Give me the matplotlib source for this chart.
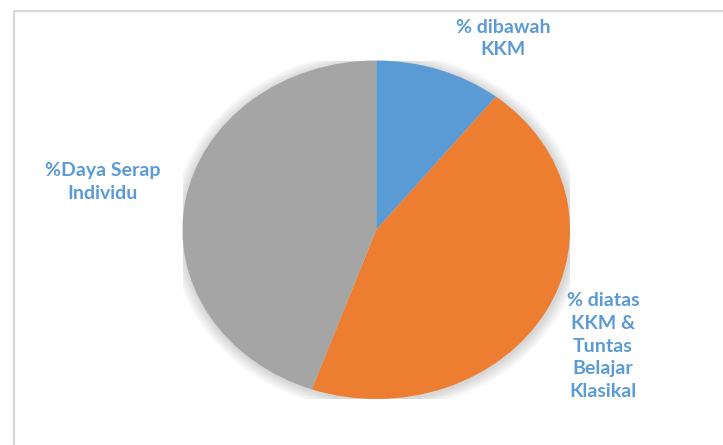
import matplotlib
matplotlib.use("Agg")
import matplotlib.pyplot as plt
from matplotlib.patches import Ellipse, Rectangle

# slice values (percent)
labels = ["% dibawah\nKKM", "% diatas\nKKM &\nTuntas\nBelajar\nKlasikal", "%Daya Serap\nIndividu"]
values = [10.6, 44.8, 44.6]
colors = ["#5B9BD5", "#ED7D31", "#A5A5A5"]
label_xy = [(503, 38.5), (603, 346), (103, 182)]  # pixel centres of the label blocks

W, H = 723, 445
fig = plt.figure(figsize=(W / 100, H / 100), dpi=100)
fig.patch.set_facecolor("white")

# chart frame (light grey border, runs off right/bottom)
bg = fig.add_axes([0, 0, 1, 1])
bg.set_xlim(0, W)
bg.set_ylim(H, 0)
bg.axis("off")
bg.add_patch(Rectangle((14, 11), W + 20, H + 20, fill=False, ec="#D9D9D9", lw=1.6))

# pie area in pixels: left, right, top, bottom
l, r, t, b = 182.5, 570, 60.5, 399
ax = fig.add_axes([l / W, 1 - b / H, (r - l) / W, (b - t) / H])
ax.axis("off")

# soft shadow behind the pie
for i in range(8):
    s = 1.0 + 0.008 * (i + 1)
    ax.add_patch(Ellipse((0.004, -0.008), 2 * s, 2 * s, fc="black", ec="none",
                         alpha=0.02, zorder=0))

ax.pie(values, colors=colors, startangle=90, counterclock=False, radius=1.0,
       wedgeprops=dict(linewidth=0), frame=False)
ax.set_aspect("auto")
ax.set_xlim(-1.0, 1.0)
ax.set_ylim(-1.0, 1.0)

for txt, (x, y) in zip(labels, label_xy):
    bg.text(x, y, txt, ha="center", va="center", color="#5B9BD5",
            fontsize=14, fontweight="bold", family="Lato", linespacing=1.4)

fig.savefig("out.png", dpi=100)
